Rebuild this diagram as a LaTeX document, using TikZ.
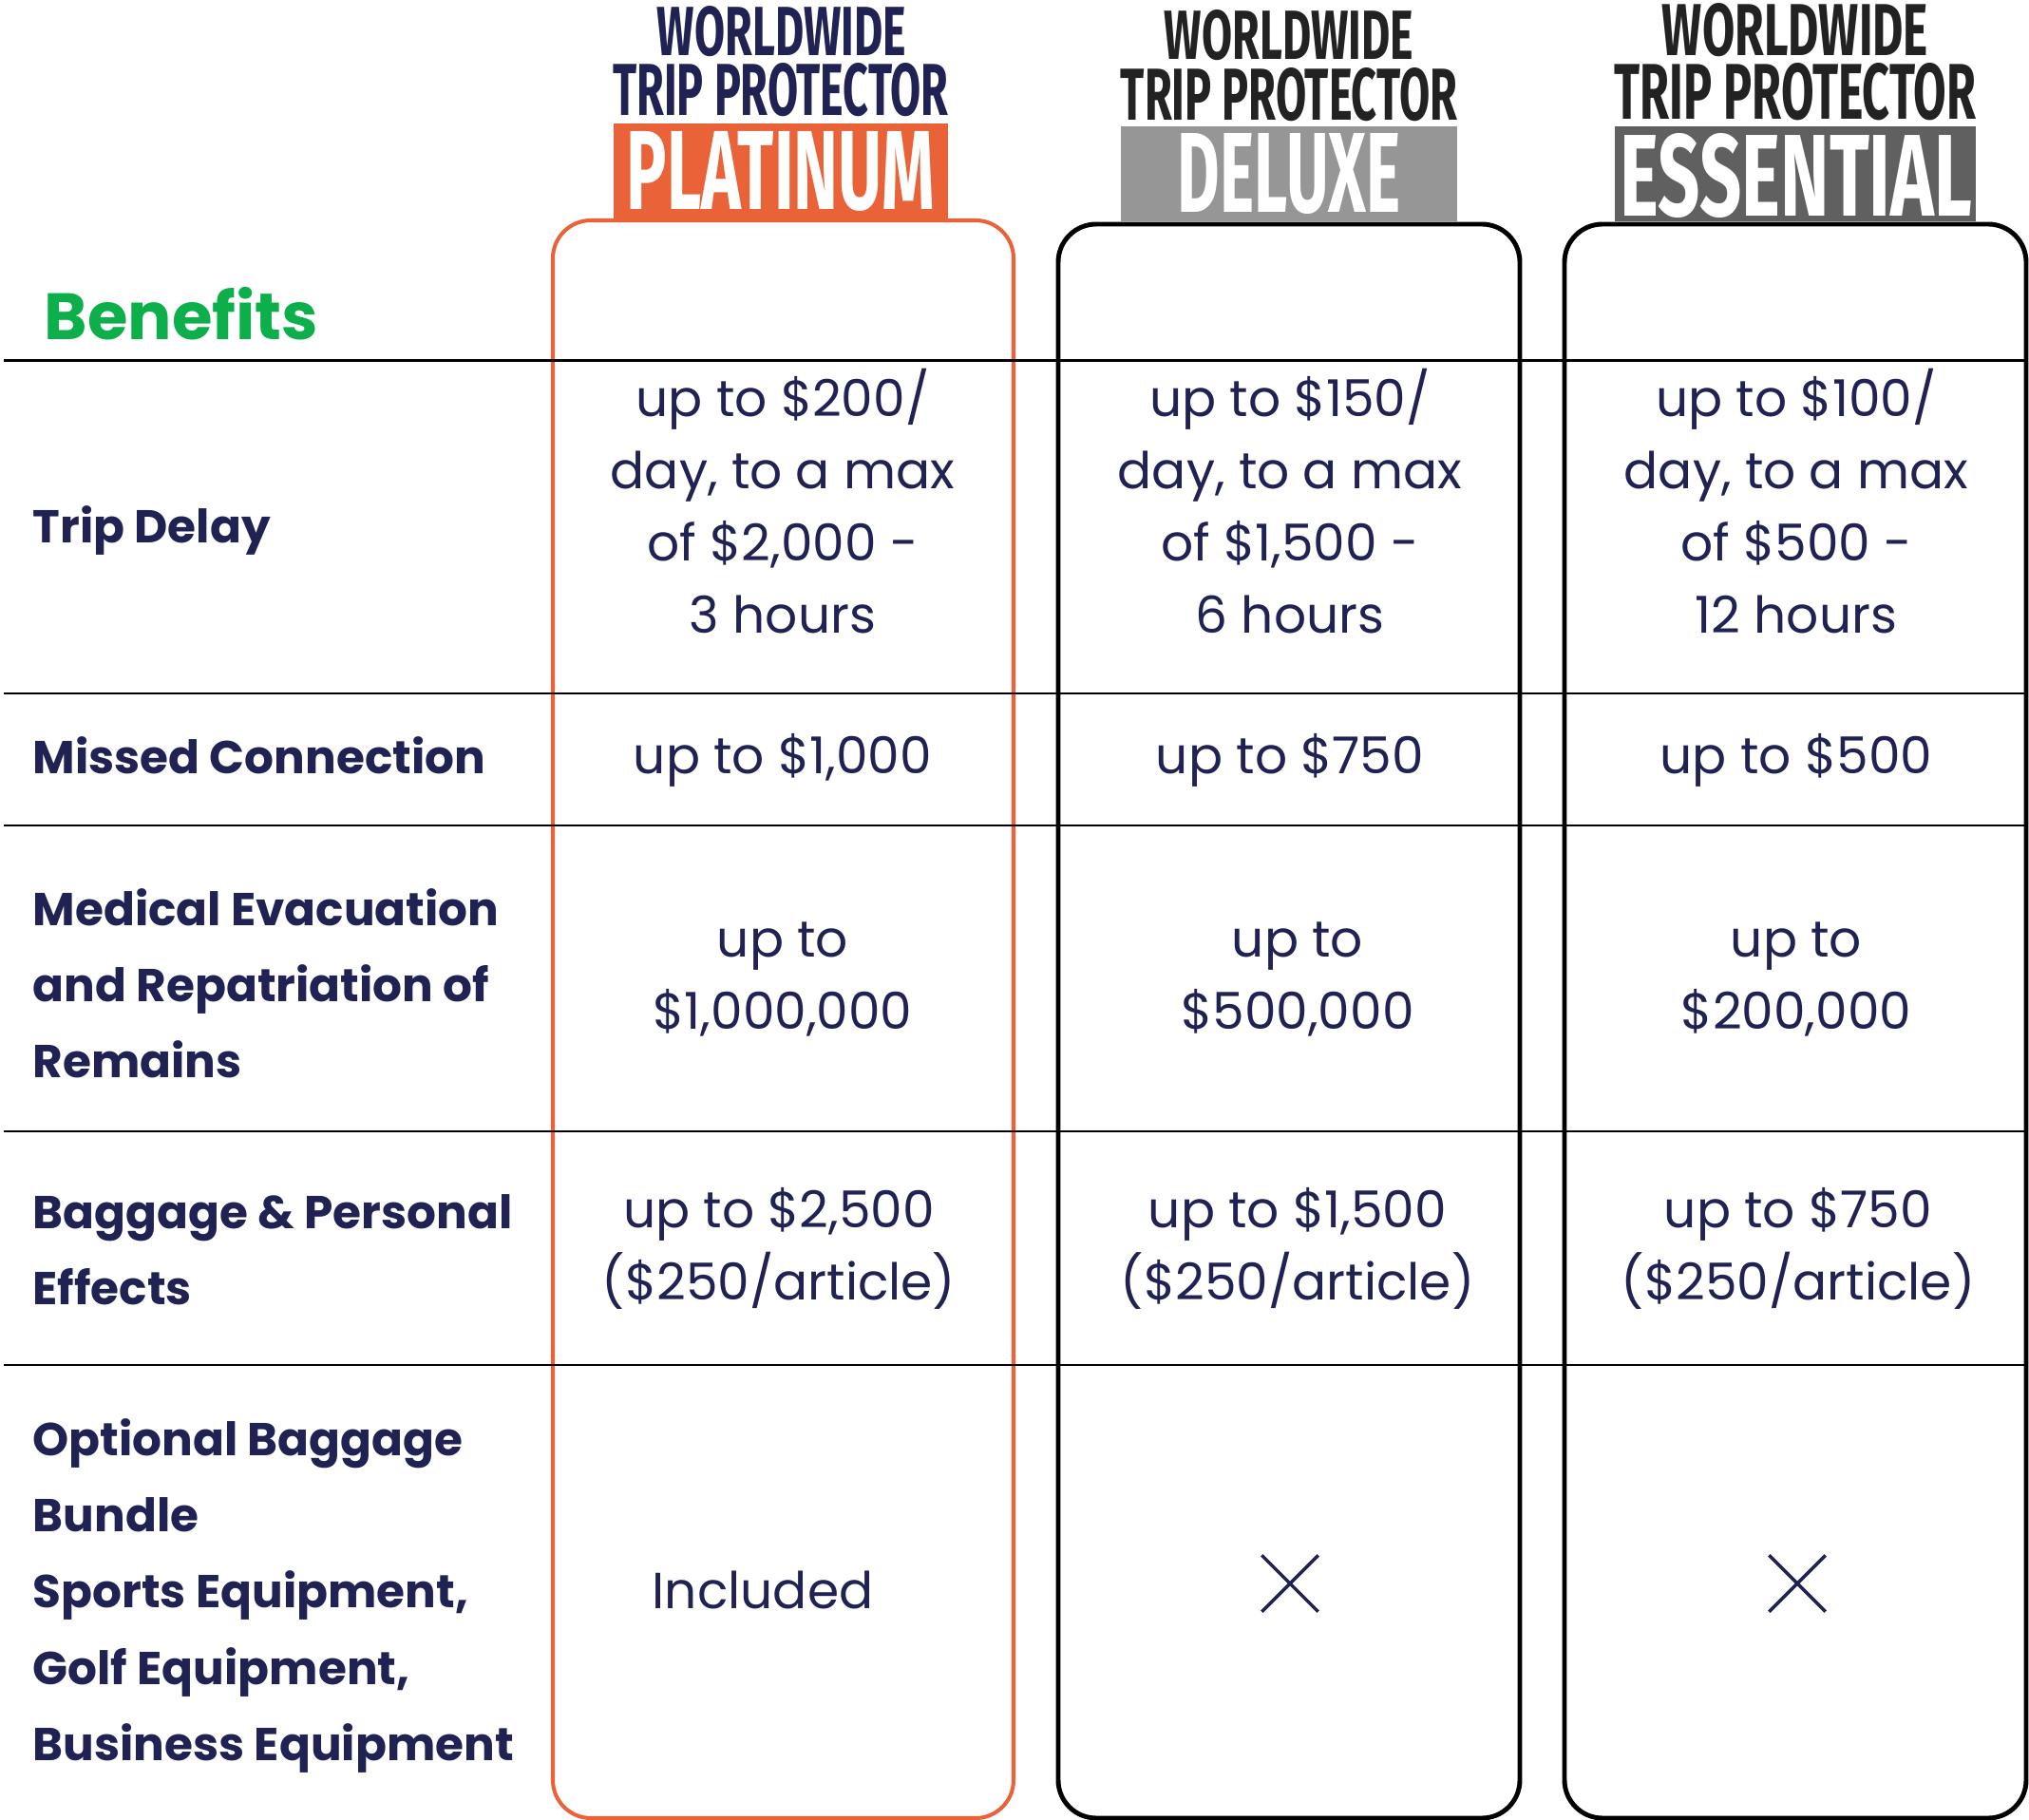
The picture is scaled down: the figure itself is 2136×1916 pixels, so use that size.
\documentclass[tikz,border=0pt]{standalone}
\usepackage{fontspec}
\usepackage{graphicx}
\setmainfont{Poppins}
\newfontfamily\headfont{Fira Sans}
\usetikzlibrary{positioning}
\definecolor{navy}{RGB}{31,34,82}
\definecolor{plat}{RGB}{234,99,56}
\definecolor{dlx}{RGB}{150,150,150}
\definecolor{ess}{RGB}{96,96,96}
\definecolor{ink}{RGB}{34,34,34}
\definecolor{benefit}{RGB}{12,175,74}

\begin{document}
\begin{tikzpicture}[x=0.01cm,y=-0.01cm,
    hd/.style={inner sep=0pt,font=\headfont\bfseries},
    tag/.style={inner sep=0pt,minimum height=0.99cm},
    col/.style={line width=1.4pt,rounded corners=0.4cm},
    rule/.style={line width=0.85pt},
    lbl/.style={anchor=west,align=left,inner sep=0pt,text=navy,font=\fontsize{13.8}{22.8}\selectfont\bfseries},
    cell/.style={align=center,text=navy,font=\fontsize{15.2}{21.6}\selectfont},
    cross/.style={draw=navy,line width=1pt}]
    \useasboundingbox (0,0) rectangle (2136,1916);

    % columns
    \draw[col,draw=plat,line width=1.15pt] (582,232) rectangle (1067,1914);
    \draw[col,draw=black] (1114,236) rectangle (1600,1914);
    \draw[col,draw=black] (1647,236) rectangle (2133,1914);

    % rows
    \draw[rule] (4,380) -- (2133,380);
    \draw[rule] (4,730) -- (2133,730);
    \draw[rule] (4,869) -- (2133,869);
    \draw[rule] (4,1191) -- (2133,1191);
    \draw[rule] (4,1437) -- (2133,1437);

    % headers
    \node[hd,text=navy] (pWorld) at (823,33) {\resizebox{2.62cm}{0.52cm}{WORLDWIDE}};
    \node[hd,text=navy] (pTrip) at (822,95) {\resizebox{3.53cm}{0.55cm}{TRIP PROTECTOR}};
    \node[tag,fill=plat,minimum width=3.52cm] (pTag) at (822,180) {};
    \node[hd,text=white] (pName) at (pTag) {\resizebox{3.24cm}{0.82cm}{PLATINUM}};

    \node[hd,text=ink] (dWorld) at (1357,37) {\resizebox{2.62cm}{0.52cm}{WORLDWIDE}};
    \node[hd,text=ink] (dTrip) at (1357,100) {\resizebox{3.54cm}{0.55cm}{TRIP PROTECTOR}};
    \node[tag,fill=dlx,minimum width=3.54cm] (dTag) at (1357,183) {};
    \node[hd,text=white] (dName) at (dTag) {\resizebox{2.34cm}{0.83cm}{DELUXE}};

    \node[hd,text=ink] (eWorld) at (1890,32) {\resizebox{2.80cm}{0.55cm}{WORLDWIDE}};
    \node[hd,text=ink] (eTrip) at (1890,97) {\resizebox{3.80cm}{0.59cm}{TRIP PROTECTOR}};
    \node[tag,fill=ess,minimum width=3.80cm] (eTag) at (1890,183) {};
    \node[hd,text=white] (eName) at (1891,185) {\resizebox{3.70cm}{0.87cm}{ESSENTIAL}};

    % benefit labels
    \node[anchor=base west,inner sep=0pt,text=benefit,font=\fontsize{19.6}{24}\selectfont\bfseries] (ben) at (46,358) {Benefits};
    \node[lbl] (delay) at (34,559) {Trip Delay};
    \node[lbl] (missed) at (34,795) {Missed Connection};
    \node[lbl] (medical) at (34,1035) {Medical Evacuation\\and Repatriation of\\Remains};
    \node[lbl] (baggage) at (34,1316) {Baggage \& Personal\\Effects};
    \node[lbl] (optional) at (34,1680) {Optional Baggage\\Bundle\\Sports Equipment,\\Golf Equipment,\\Business Equipment};

    % platinum
    \node[cell] (pDelay) at (824,528) {up to \$200/\\day, to a max\\of \$2,000 -\\3 hours};
    \node[cell] (pMissed) at (824,800) {up to \$1,000};
    \node[cell] (pMedical) at (824,1031) {up to\\\$1,000,000};
    \node[cell] (pBaggage) at (820,1314) {up to \$2,500\\(\$250/article)};
    \node[cell] (pOptional) at (803,1674) {Included};

    % deluxe
    \node[cell] (dDelay) at (1358,528) {up to \$150/\\day, to a max\\of \$1,500 -\\6 hours};
    \node[cell] (dMissed) at (1358,800) {up to \$750};
    \node[cell] (dMedical) at (1366,1031) {up to\\\$500,000};
    \node[cell] (dBaggage) at (1366,1314) {up to \$1,500\\(\$250/article)};
    \node[minimum size=0.58cm,inner sep=0pt] (dOptional) at (1358,1667) {};
    \draw[cross] (dOptional.north west) -- (dOptional.south east)
        (dOptional.north east) -- (dOptional.south west);

    % essential
    \node[cell] (eDelay) at (1891,528) {up to \$100/\\day, to a max\\of \$500 -\\12 hours};
    \node[cell] (eMissed) at (1891,800) {up to \$500};
    \node[cell] (eMedical) at (1891,1031) {up to\\\$200,000};
    \node[cell] (eBaggage) at (1893,1314) {up to \$750\\(\$250/article)};
    \node[minimum size=0.58cm,inner sep=0pt] (eOptional) at (1892,1667) {};
    \draw[cross] (eOptional.north west) -- (eOptional.south east)
        (eOptional.north east) -- (eOptional.south west);
\end{tikzpicture}
\end{document}
